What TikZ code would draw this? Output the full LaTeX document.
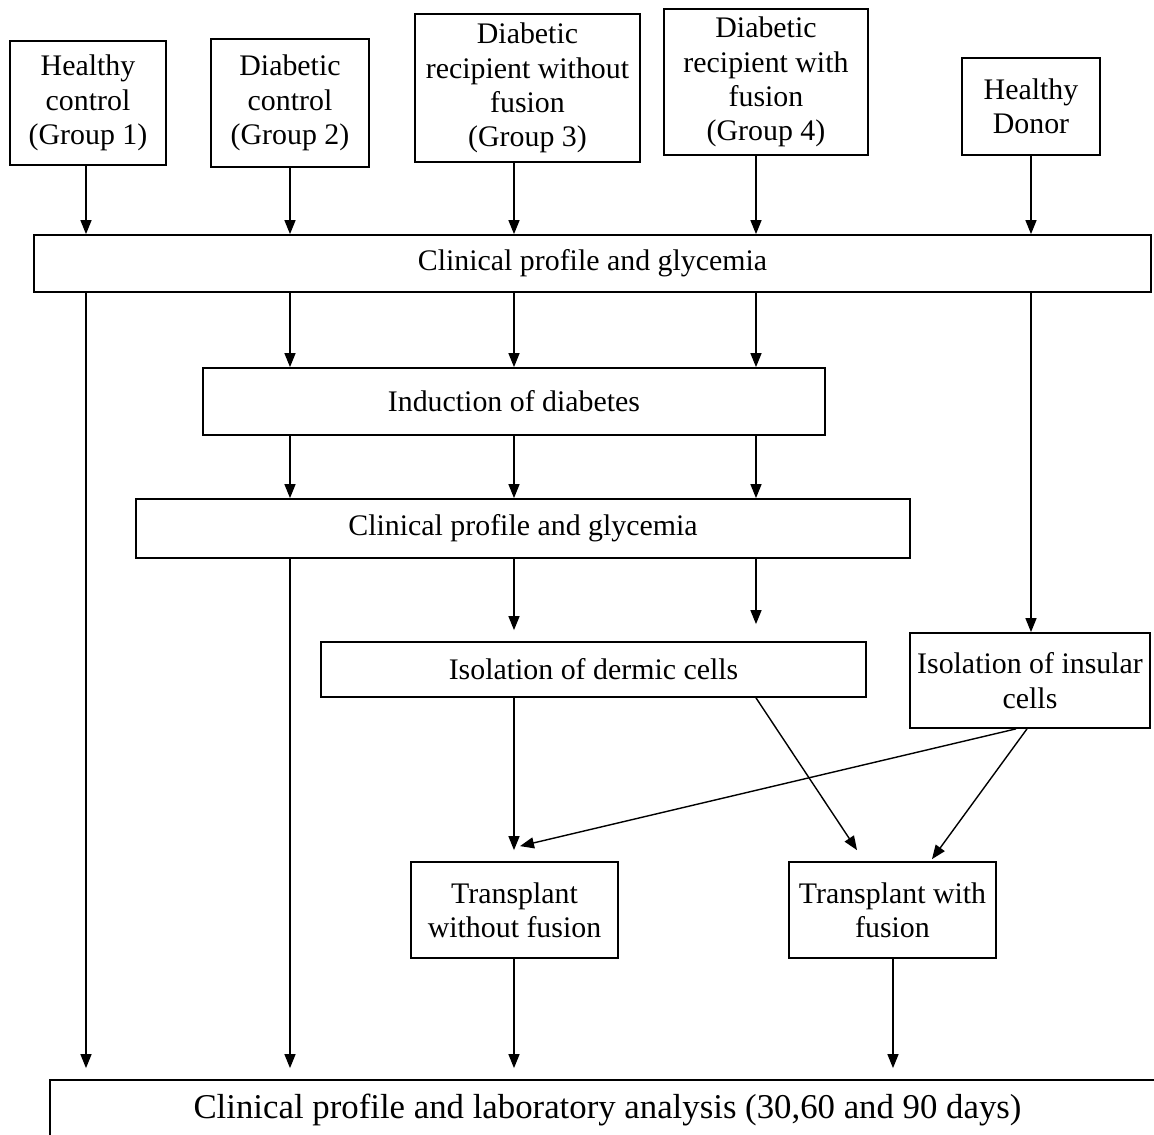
\documentclass[tikz,border=0pt]{standalone}
\usepackage{fontspec}
\setmainfont{Liberation Serif}
\usetikzlibrary{arrows.meta}
\usetikzlibrary{positioning}
\tikzset{
    box/.style = {rectangle, draw=black, line width=1pt, align=center, inner sep=0pt, font=\fontsize{17}{19.5}\selectfont},
    bigbox/.style = {box, font=\fontsize{19.8}{23}\selectfont},
    edgen/.style = {-{Triangle[length=0.28cm,width=0.22cm]}, line width=0.8pt},
    edgegap/.style = {edgen, shorten >=0.22cm}, % tip stops short of the box
}

\begin{document}
\begin{tikzpicture}[x=0.02cm,y=-0.02cm]
\useasboundingbox (0,0) rectangle (1154,1135);
%
\coordinate (ca) at (86,0);
\coordinate (cb) at (290,0);
\coordinate (cc) at (514,0);
\coordinate (cd) at (756,0);
\coordinate (ce) at (1031,0);
\coordinate (cf) at (893,0);
%
\node[box, minimum width=3.12cm, minimum height=2.48cm] at (88, 103) (g1) {Healthy\\control\\(Group 1)};
\node[box, minimum width=3.16cm, minimum height=2.56cm] at (290, 103) (g2) {Diabetic\\control\\(Group 2)};
\node[box, minimum width=4.50cm, minimum height=2.96cm] at (527.5, 88) (g3) {Diabetic\\recipient without\\fusion\\(Group 3)};
\node[box, minimum width=4.08cm, minimum height=2.92cm] at (766, 82) (g4) {Diabetic\\recipient with\\fusion\\(Group 4)};
\node[box, minimum width=2.76cm, minimum height=1.94cm] at (1031, 106.5) (donor) {Healthy\\Donor};
%
\node[box, minimum width=22.34cm, minimum height=1.14cm] at (592.5, 263.5) (cpg1) {Clinical profile and glycemia};
\node[box, minimum width=12.44cm, minimum height=1.34cm] at (514, 401.5) (ind) {Induction of diabetes};
\node[box, minimum width=15.48cm, minimum height=1.18cm] at (523, 528.5) (cpg2) {Clinical profile and glycemia};
\node[box, minimum width=10.90cm, minimum height=1.10cm] at (593.5, 669.5) (derm) {Isolation of dermic cells};
\node[box, minimum width=4.80cm, minimum height=1.90cm] at (1030, 680.5) (insul) {Isolation of insular\\cells};
\node[box, minimum width=4.14cm, minimum height=1.92cm] at (514.5, 910) (tno) {Transplant\\without fusion};
\node[box, minimum width=4.14cm, minimum height=1.92cm] at (892.5, 910) (twith) {Transplant with\\fusion};
\node[bigbox, minimum width=22.30cm, minimum height=1.20cm] at (607.5, 1110) (final) {Clinical profile and laboratory analysis (30,60 and 90 days)};
%
\draw[edgen] (g1.south -| ca) -- (cpg1.north -| ca);
\draw[edgen] (g2.south -| cb) -- (cpg1.north -| cb);
\draw[edgen] (g3.south -| cc) -- (cpg1.north -| cc);
\draw[edgen] (g4.south -| cd) -- (cpg1.north -| cd);
\draw[edgen] (donor.south -| ce) -- (cpg1.north -| ce);
%
\draw[edgen] (cpg1.south -| cb) -- (ind.north -| cb);
\draw[edgen] (cpg1.south -| cc) -- (ind.north -| cc);
\draw[edgen] (cpg1.south -| cd) -- (ind.north -| cd);
\draw[edgen] (cpg1.south -| ce) -- (insul.north -| ce);
\draw[edgegap] (cpg1.south -| ca) -- (final.north -| ca);
%
\draw[edgen] (ind.south -| cb) -- (cpg2.north -| cb);
\draw[edgen] (ind.south -| cc) -- (cpg2.north -| cc);
\draw[edgen] (ind.south -| cd) -- (cpg2.north -| cd);
%
\draw[edgegap] (cpg2.south -| cc) -- (derm.north -| cc);
\draw[edgen, shorten >=0.34cm] (cpg2.south -| cd) -- (derm.north -| cd);
\draw[edgegap] (cpg2.south -| cb) -- (final.north -| cb);
%
\draw[edgegap] (derm.south -| cc) -- (tno.north -| cc);
\draw[edgen] (derm.south -| cd) -- ([shift={(-35.5,-11)}]twith.north);
\draw[edgen] ([shift={(-14,0)}]insul.south) -- ([shift={(5.5,-15)}]tno.north);
\draw[edgen] ([shift={(-3,0)}]insul.south) -- ([shift={(39.5,-2)}]twith.north);
%
\draw[edgegap] (tno.south -| cc) -- (final.north -| cc);
\draw[edgegap] (twith.south -| cf) -- (final.north -| cf);

\end{tikzpicture}
\end{document}
